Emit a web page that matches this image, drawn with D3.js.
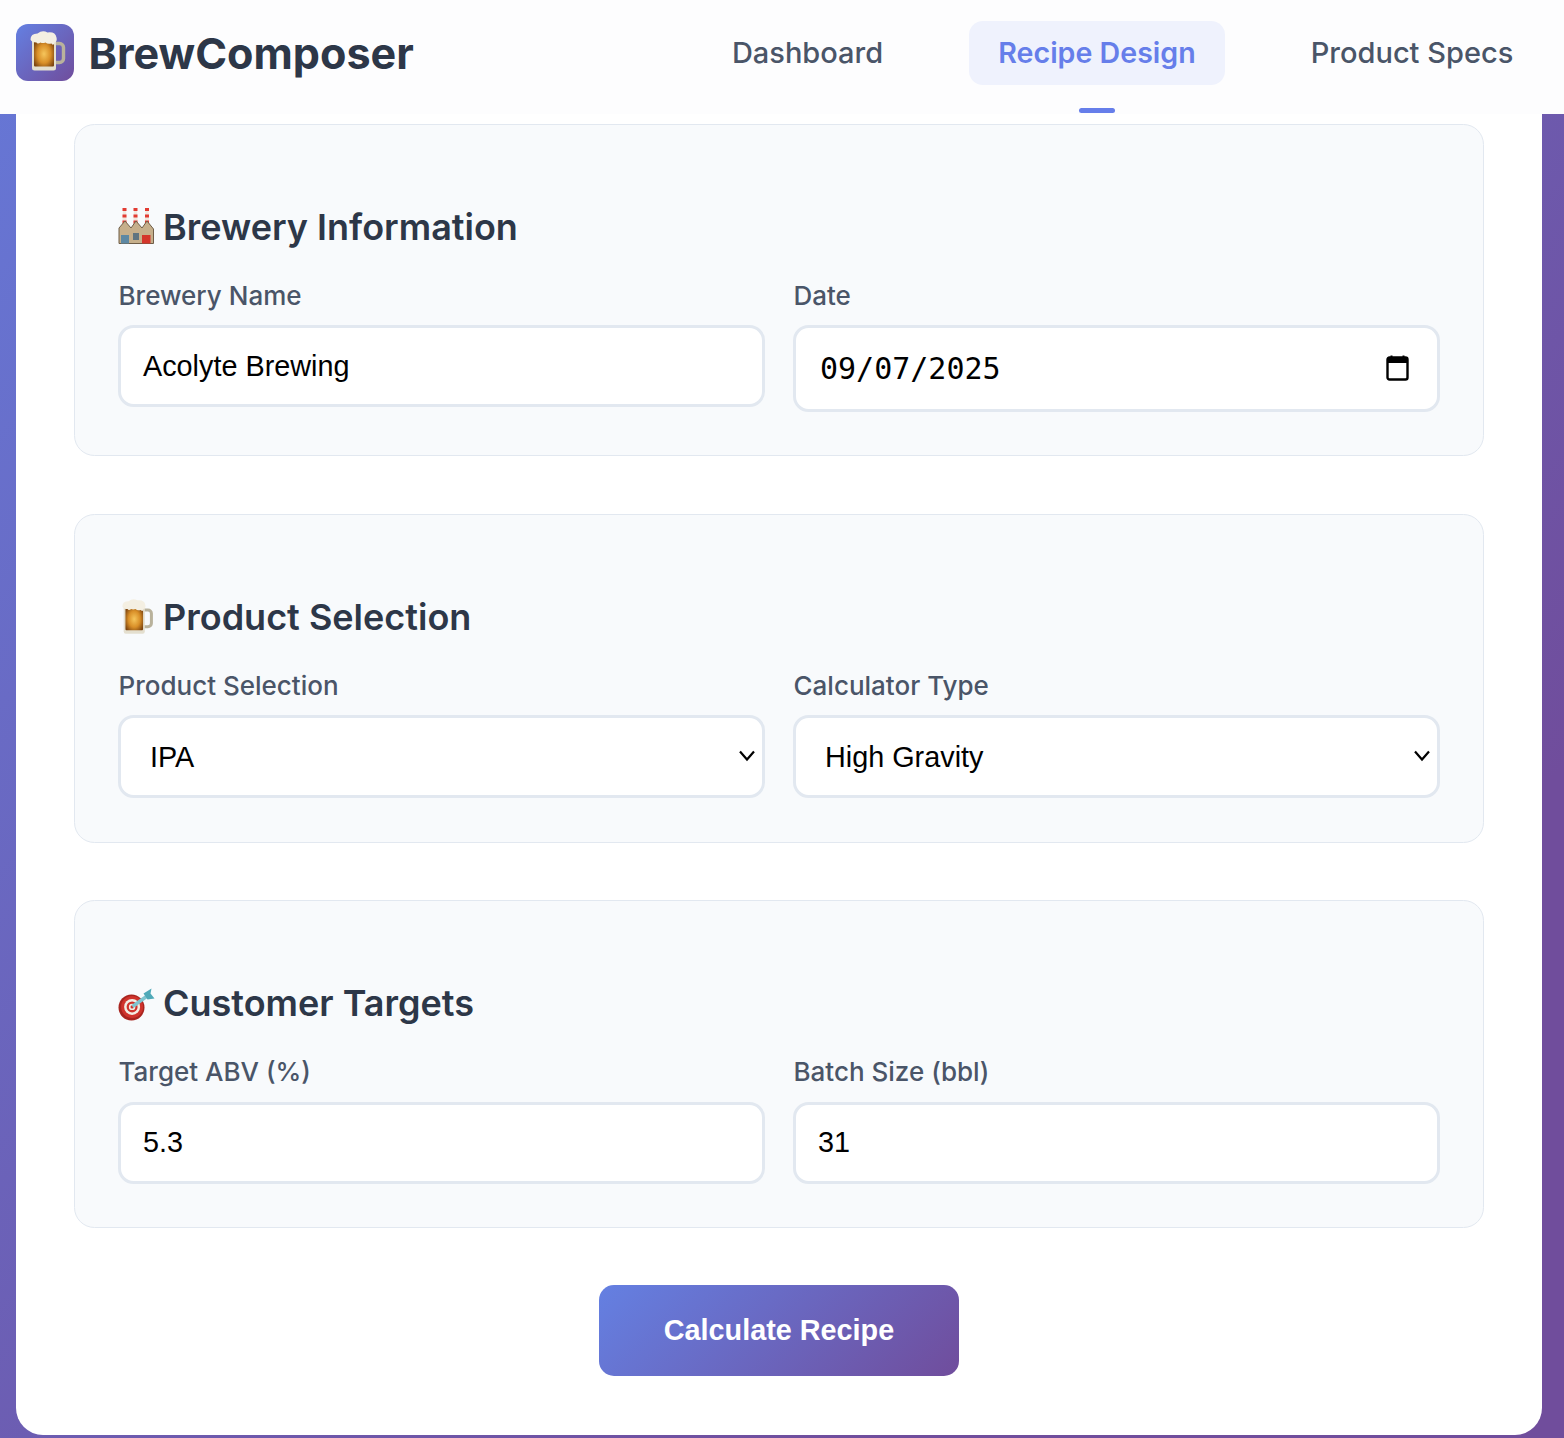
<!DOCTYPE html>
<html><head><meta charset="utf-8"><script src="https://cdn.jsdelivr.net/npm/d3@7"></script>
<style>html,body{margin:0;padding:0;background:#fff;overflow:hidden}svg{display:block}</style></head>
<body><div id="c"></div>
<script>
const brand = "BrewComposer";
const navItems = ["Dashboard","Recipe Design","Product Specs"];
const activeNav = "Recipe Design";
const sectionTitles = ["Brewery Information","Product Selection","Customer Targets"];
const sectionIcons = ["factory","mug","target"];
const fieldLabels = ["Brewery Name","Date","Product Selection","Calculator Type","Target ABV (%)","Batch Size (bbl)"];
const fieldValues = ["Acolyte Brewing","09/07/2025","IPA","High Gravity","5.3","31"];
const fieldKinds = ["text","date","select","select","text","text"];
const buttonLabel = "Calculate Recipe";

const W=1564,H=1438;
const svg=d3.select("#c").append("svg").attr("width",W).attr("height",H).attr("viewBox",[0,0,W,H]);
const defs=svg.append("defs");
function grad(id,x1,y1,x2,y2,units){
  const g=defs.append("linearGradient").attr("id",id).attr("x1",x1).attr("y1",y1).attr("x2",x2).attr("y2",y2);
  if(units)g.attr("gradientUnits",units);
  g.append("stop").attr("offset",0).attr("stop-color","#6480e2");
  g.append("stop").attr("offset",1).attr("stop-color","#704d9c");
}
grad("bg",-222,-222,1166,1166,"userSpaceOnUse");
grad("btn",666,1218,892,1443,"userSpaceOnUse");
grad("logo",0,0,1,1);
const beer=defs.append("radialGradient").attr("id","beer").attr("cx",.5).attr("cy",.55).attr("r",.6);
[[0,"#f6c65c"],[.55,"#d98f28"],[1,"#7c4410"]].forEach(s=>beer.append("stop").attr("offset",s[0]).attr("stop-color",s[1]));

svg.append("rect").attr("width",W).attr("height",H).attr("fill","url(#bg)");
svg.append("rect").attr("x",16).attr("y",40).attr("width",1526).attr("height",1395).attr("rx",27).attr("fill","#fff");
svg.append("rect").attr("width",W).attr("height",114).attr("fill","#fdfdfe");

const INTER="Inter, sans-serif", ARIAL="'Liberation Sans', sans-serif", MONO="'DejaVu Sans Mono', monospace";

function mug(g,x,y,s){
  const m=g.append("g").attr("transform",`translate(${x},${y}) scale(${s})`);
  m.append("path").attr("d","M25 13 h5 a4 4 0 0 1 4 4 v11 a4 4 0 0 1 -4 4 h-5").attr("fill","none").attr("stroke","#b9b29c").attr("stroke-width",3.4);
  m.append("rect").attr("x",2.5).attr("y",6).attr("width",24).attr("height",34).attr("rx",2.5).attr("fill","#e4dfcf");
  m.append("rect").attr("x",4.5).attr("y",8).attr("width",20).attr("height",28).attr("rx",1).attr("fill","url(#beer)");
  m.append("path").attr("d","M1 9 q0 -6 7 -6 q5 -4 10 -1 q8 -1 9 5 q1 4 -2 5 q-1 4 -3 1 q-4 1 -6 -1 q-3 1 -5 0 q-3 2 -4 0 q-5 0 -6 -3z").attr("fill","#f4efe2");
}
function factory(g,x,y){
  const m=g.append("g").attr("transform",`translate(${x},${y})`);
  [6.5,17.5,29].forEach(cx=>{
    m.append("path").attr("d",`M${cx-1.4} 0 h2.8 l1 17 h-4.8z`).attr("fill","#f1e6de");
    [0,6.5,12.5].forEach(yy=>m.append("rect").attr("x",cx-2).attr("y",yy).attr("width",4).attr("height",3).attr("fill","#e23b32"));
  });
  m.append("path").attr("d","M1 35.5 V20 L7 13 L13 20 L18 13 L24 20 L29 13 L35.5 21 V35.5z").attr("fill","#c6af8b").attr("stroke","#6f5e48").attr("stroke-width",1);
  m.append("rect").attr("x",3).attr("y",27).attr("width",8).attr("height",8.5).attr("fill","#5d88a3");
  m.append("rect").attr("x",15).attr("y",25).attr("width",6).attr("height",7).attr("fill","#5f7480");
  m.append("rect").attr("x",24).attr("y",27).attr("width",8.5).attr("height",8.5).attr("fill","#d4352b");
}
function target(g,x,y){
  const m=g.append("g").attr("transform",`translate(${x},${y})`);
  [[13,"#a8241f"],[11,"#cf332c"],[8,"#f2ede4"],[5.5,"#cf332c"],[3.2,"#f2ede4"],[1.6,"#cf332c"]].forEach((c,i)=>m.append("circle").attr("cx",i?14.6:14).attr("cy",i?17.4:18).attr("r",c[0]).attr("fill",c[1]));
  m.append("path").attr("d","M15 17 L29 7").attr("stroke","#7fc4cf").attr("stroke-width",3.4);
  m.append("path").attr("d","M26 4 L34 -1 L33 4 L37 9 L30 10z").attr("fill","#4fa9b8");
}

// header
svg.append("rect").attr("x",16).attr("y",24).attr("width",58).attr("height",57).attr("rx",12).attr("fill","url(#logo)");
mug(svg,29.5,30.5,1);
svg.append("text").text(brand).attr("x",88.5).attr("y",69).attr("font-family",INTER).attr("font-weight",700).attr("font-size",43.1).attr("fill","#2d3748");

const navX=d3.scaleOrdinal().domain(navItems).range([807.5,1097,1412]);
svg.append("rect").attr("x",969).attr("y",21).attr("width",256).attr("height",64).attr("rx",14).attr("fill","#eff2fd");
svg.append("rect").attr("x",1079).attr("y",108).attr("width",36).attr("height",5).attr("rx",2.5).attr("fill","#667eea");
svg.selectAll(".nav").data(navItems).join("text").attr("class","nav").text(d=>d)
  .attr("x",d=>navX(d)).attr("y",63).attr("text-anchor","middle")
  .attr("font-family",INTER).attr("font-weight",d=>d===activeNav?600:500).attr("font-size",d=>d===activeNav?28.6:29)
  .attr("fill",d=>d===activeNav?"#667eea":"#4a5568");

// sections
const secTop=[124.5,514.5,900.5], secH=[331,328,327];
const titleY=[240,630,1016], labelY=[304.5,694.5,1080.5];
const boxTop=[326.5,716.5,1103.5], boxH=[[79,84],[80,80],[79,79]];
const valY=[[376,379],[767,767],[1152,1152]];
svg.selectAll(".sec").data(sectionTitles).join("rect").attr("class","sec")
  .attr("x",74.5).attr("y",(d,i)=>secTop[i]).attr("width",1409).attr("height",(d,i)=>secH[i]).attr("rx",20)
  .attr("fill","#f8fafc").attr("stroke","#e2e8f0").attr("stroke-width",1);
svg.selectAll(".sect").data(sectionTitles).join("text").attr("class","sect").text(d=>d)
  .attr("x",163).attr("y",(d,i)=>titleY[i]).attr("font-family",INTER).attr("font-weight",600).attr("font-size",36).attr("fill","#2d3748");
sectionIcons.forEach(k=>{
  if(k==="factory")factory(svg,118,208);
  if(k==="mug")mug(svg,121.5,598.5,.88);
  if(k==="target")target(svg,117.5,989.5);
});

const colX=d3.scaleOrdinal().domain([0,1]).range([119.5,794.5]);
const fields=fieldLabels.map((l,i)=>({l,v:fieldValues[i],k:fieldKinds[i],row:Math.floor(i/2),col:i%2}));
svg.selectAll(".lab").data(fields).join("text").attr("class","lab").text(d=>d.l)
  .attr("x",d=>colX(d.col)-1).attr("y",d=>labelY[d.row]).attr("font-family",INTER).attr("font-weight",500).attr("font-size",26).attr("fill","#4a5568");
svg.selectAll(".box").data(fields).join("rect").attr("class","box")
  .attr("x",d=>colX(d.col)).attr("y",d=>boxTop[d.row]).attr("width",644).attr("height",d=>boxH[d.row][d.col]).attr("rx",14)
  .attr("fill","#fff").attr("stroke","#e2e8f0").attr("stroke-width",3);
svg.selectAll(".val").data(fields).join("text").attr("class","val").text(d=>d.v)
  .attr("x",d=>colX(d.col)+(d.k==="select"?30.5:d.k==="date"?25.5:23.5)).attr("y",d=>valY[d.row][d.col])
  .attr("font-family",d=>d.k==="date"?MONO:ARIAL)
  .attr("font-size",d=>d.k==="date"?30:28.8).attr("fill","#000");
fields.filter(d=>d.k==="select").forEach(d=>{
  const cx=colX(d.col)+627.5, cy=boxTop[d.row]+39;
  svg.append("path").attr("d",`M${cx-7} ${cy-4} L${cx} ${cy+4} L${cx+7} ${cy-4}`).attr("fill","none").attr("stroke","#000").attr("stroke-width",2.2);
});
// calendar icon
const cal=svg.append("g").attr("transform","translate(1386.5,355.5)");
cal.append("rect").attr("x",1).attr("y",2).attr("width",20).attr("height",22).attr("rx",2).attr("fill","none").attr("stroke","#000").attr("stroke-width",2.4);
cal.append("rect").attr("x",1).attr("y",2).attr("width",20).attr("height",5.5).attr("fill","#000");
cal.append("path").attr("d","M5 0v3M17 0v3").attr("stroke","#000").attr("stroke-width",2);

// button
svg.append("rect").attr("x",599).attr("y",1285).attr("width",360).attr("height",91).attr("rx",15).attr("fill","url(#btn)");
svg.append("text").text(buttonLabel).attr("x",779).attr("y",1340).attr("text-anchor","middle").attr("font-family",ARIAL).attr("font-weight",700).attr("font-size",28.8).attr("fill","#fff");
</script></body></html>
